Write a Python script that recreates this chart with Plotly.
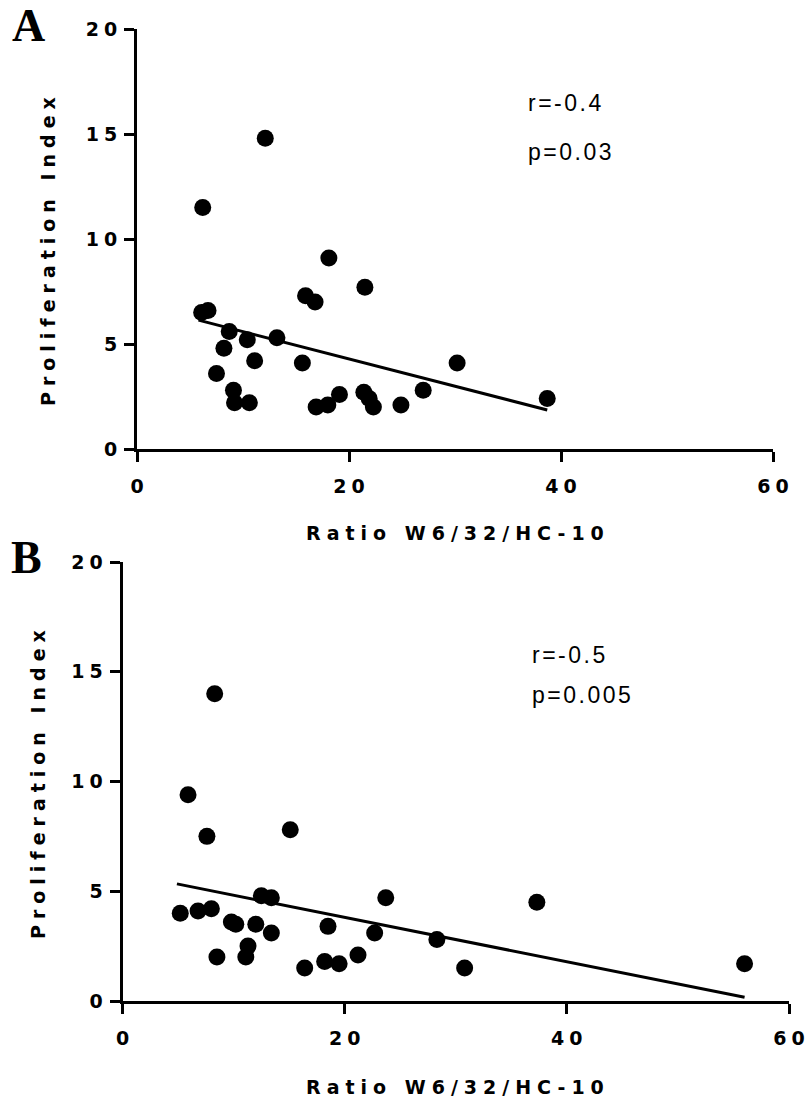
import numpy as np
import plotly.graph_objects as go

# Panel A: W6/32 / HC-10 ratio vs proliferation index
ratio_a = [6.2, 12.1, 18.1, 21.5, 15.9, 16.8, 6.1, 6.7, 8.7, 10.4, 13.2, 8.2, 11.1, 15.6,
           30.2, 7.5, 9.1, 9.2, 10.6, 16.9, 18.0, 19.1, 21.4, 21.9, 22.3, 24.9, 27.0, 38.7]
prolif_a = [11.5, 14.8, 9.1, 7.7, 7.3, 7.0, 6.5, 6.6, 5.6, 5.2, 5.3, 4.8, 4.2, 4.1,
            4.1, 3.6, 2.8, 2.2, 2.2, 2.0, 2.1, 2.6, 2.7, 2.4, 2.0, 2.1, 2.8, 2.4]
fit_a = (-0.130, 6.89)   # slope, intercept of the regression line

# Panel B
ratio_b = [5.9, 7.6, 15.1, 8.3, 12.5, 13.4, 23.7, 5.2, 6.8, 8.0, 9.8, 10.2, 12.0, 13.4,
           18.5, 22.7, 28.3, 11.3, 11.1, 8.5, 16.4, 18.2, 19.5, 21.2, 30.8, 37.3, 56.0]
prolif_b = [9.4, 7.5, 7.8, 14.0, 4.8, 4.7, 4.7, 4.0, 4.1, 4.2, 3.6, 3.5, 3.5, 3.1,
            3.4, 3.1, 2.8, 2.5, 2.0, 2.0, 1.5, 1.8, 1.7, 2.1, 1.5, 4.5, 1.7]
fit_b = (-0.101, 5.83)

stats_a = ["r=-0.4", "p=0.03"]
stats_b = ["r=-0.5", "p=0.005"]

x_ticks = [0, 20, 40, 60]
y_ticks = [0, 5, 10, 15, 20]

W, H = 805, 1104
SANS = "Liberation Sans, Arial, sans-serif"
BOLD_SANS = "DejaVu Sans, Verdana, sans-serif"
SERIF = "Liberation Serif, Times New Roman, serif"


def spaced(s, px):
    return f'<span style="letter-spacing:{px}px">{s}</span>'


def tick_label(v, px):
    # spacing only between characters, none trailing after the last digit
    s = str(v)
    return (spaced(s[:-1], px) if len(s) > 1 else "") + s[-1]


def px_x(x):
    return x / W


def px_y(y):
    return 1 - y / H


fig = go.Figure()


def add_panel(xs, ys, fit, xa, ya):
    fig.add_trace(go.Scatter(
        x=xs, y=ys, mode="markers", xaxis=xa, yaxis=ya,
        marker=dict(size=17, color="black", line=dict(width=0)),
        showlegend=False, hoverinfo="skip", cliponaxis=False))
    slope, icpt = fit
    fx = np.array([min(xs) - 0.3, max(xs)])
    fig.add_trace(go.Scatter(
        x=fx, y=slope * fx + icpt, mode="lines", xaxis=xa, yaxis=ya,
        line=dict(color="black", width=3), showlegend=False, hoverinfo="skip"))


add_panel(ratio_a, prolif_a, fit_a, "x", "y")
add_panel(ratio_b, prolif_b, fit_b, "x2", "y2")

tick_font = dict(family=BOLD_SANS, size=19, color="black", weight="bold")
common_x = dict(range=[0, 60], tickvals=x_ticks,
                ticktext=[tick_label(v, 5) for v in x_ticks],
                showline=True, linewidth=3, linecolor="black", ticks="outside",
                ticklen=10, tickwidth=3, tickcolor="black", showgrid=False,
                zeroline=False, tickfont=tick_font, ticklabelstandoff=8,
                ticklabeloverflow="allow", automargin=False)
common_y = dict(range=[0, 20], tickvals=y_ticks,
                ticktext=[tick_label(v, 5) for v in y_ticks],
                showline=True, linewidth=3, linecolor="black", ticks="outside",
                ticklen=10, tickwidth=3, tickcolor="black", showgrid=False,
                zeroline=False, tickfont=tick_font, ticklabelstandoff=3,
                ticklabeloverflow="allow", automargin=False)

fig.update_layout(
    template="none",
    width=W, height=H, margin=dict(l=0, r=0, t=0, b=0, pad=0), autosize=False,
    paper_bgcolor="white", plot_bgcolor="white",
    xaxis=dict(domain=[px_x(137), px_x(773)], anchor="y", **common_x),
    yaxis=dict(domain=[px_y(449), px_y(29)], anchor="x", **common_y),
    xaxis2=dict(domain=[px_x(122.5), px_x(789)], anchor="y2", **common_x),
    yaxis2=dict(domain=[px_y(1001), px_y(562)], anchor="x2", **common_y),
)

title_font = dict(family=BOLD_SANS, size=19, color="black", weight="bold")
stat_font = dict(family=SANS, size=23, color="black")
ann = []
# axis titles
ann.append(dict(text=spaced("Proliferation Index", 6), x=px_x(48), y=px_y(249),
                textangle=-90, font=title_font))
ann.append(dict(text=spaced("Ratio W6/32/HC-10", 6), x=px_x(458), y=px_y(533),
                font=title_font))
ann.append(dict(text=spaced("Proliferation Index", 6), x=px_x(38), y=px_y(782),
                textangle=-90, font=title_font))
ann.append(dict(text=spaced("Ratio W6/32/HC-10", 6), x=px_x(458), y=px_y(1087),
                font=title_font))
# correlation statistics
ann.append(dict(text=spaced(stats_a[0], 2.5), x=px_x(526), y=px_y(103), xanchor="left",
                font=stat_font))
ann.append(dict(text=spaced(stats_a[1], 2.5), x=px_x(526), y=px_y(152), xanchor="left",
                font=stat_font))
ann.append(dict(text=spaced(stats_b[0], 2.5), x=px_x(530), y=px_y(655), xanchor="left",
                font=stat_font))
ann.append(dict(text=spaced(stats_b[1], 2.5), x=px_x(530), y=px_y(695), xanchor="left",
                font=stat_font))
# panel letters
letter_font = dict(family=SERIF, size=46, color="black", weight="bold")
ann.append(dict(text="A", x=px_x(28), y=px_y(26), font=letter_font))
ann.append(dict(text="B", x=px_x(27), y=px_y(557), font=letter_font))

for a in ann:
    a.update(xref="paper", yref="paper", showarrow=False)
    a.setdefault("xanchor", "center")
    a.setdefault("yanchor", "middle")
fig.update_layout(annotations=ann)

fig.write_html("out.html")
